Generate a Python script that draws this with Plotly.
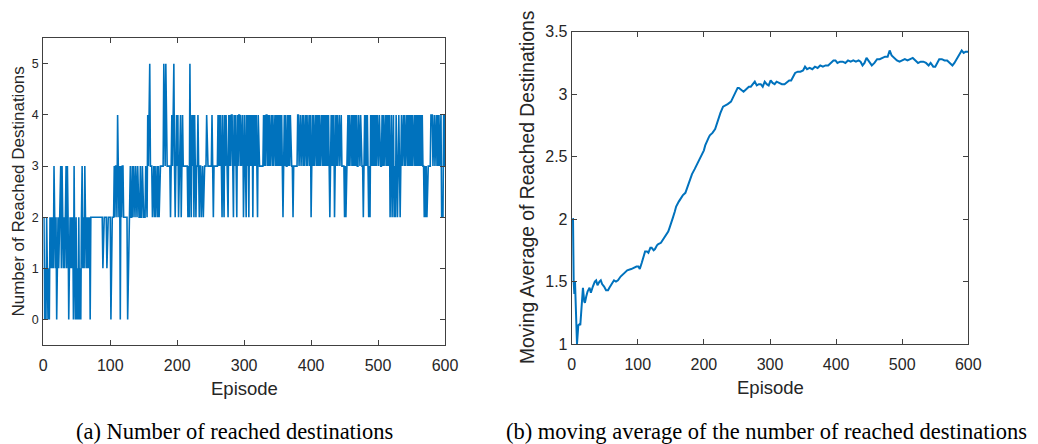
import plotly.graph_objects as go

# Reached destinations per episode (episodes 1..600), written 50 episodes per chunk
reached_chunks = [
    "20102001021212132120121223132121231320121212031020",  # 1-50
    "10201023121321212120222222222222222222122222122222",  # 51-100
    "02222323324323032332222220122322323223223222322322",  # 101-150
    "22322434533323323233232333333533533333323434532343",  # 151-200
    "42344234333333323253243424323343233233233334333333",  # 201-250
    "34323333334343432432434332434344324343243443434423",  # 251-300
    "43243424343424343432433333334343443434344343443434",  # 301-350
    "34343432343433434343332333333443443443434434344342",  # 351-400
    "34343443434343443434343434323434342343434434433332",  # 401-450
    "32334343443434343433433433323434343232434343434343",  # 451-500
    "34333434344343434234234232432343234344343443434343",  # 501-550
    "43443434343434343323232333334443443443434344222434",  # 551-600
]
reached = [int(c) for c in "".join(reached_chunks)]
episodes = list(range(1, len(reached) + 1))

# Moving average of reached destinations
ma_episode = [
    1, 2, 3, 4, 5, 6, 8, 10, 12, 13, 15, 17, 19, 20, 22, 24, 27, 29, 32, 35,
    37, 39, 42, 44, 46, 49, 52, 55, 57, 59, 62, 64, 67, 70, 74, 78, 84, 90, 94, 98,
    101, 103, 106, 109, 111, 114, 116, 119, 121, 124, 126, 129, 131, 135, 139, 143, 146, 148, 151, 153,
    156, 158, 162, 165, 168, 172, 175, 177, 180, 182, 186, 190, 193, 195, 198, 200, 202, 204, 207, 209,
    213, 217, 220, 222, 225, 229, 233, 236, 241, 244, 246, 249, 251, 253, 256, 260, 264, 268, 271, 274,
    277, 280, 283, 286, 289, 292, 295, 298, 301, 304, 307, 310, 314, 318, 322, 326, 329, 332, 335, 338,
    342, 346, 350, 353, 356, 360, 364, 368, 372, 376, 380, 384, 388, 392, 396, 399, 402, 406, 410, 414,
    418, 422, 426, 430, 434, 437, 440, 443, 446, 450, 454, 458, 462, 466, 470, 474, 478, 481, 484, 488,
    492, 496, 500, 504, 508, 512, 516, 520, 524, 528, 532, 536, 540, 543, 547, 550, 553, 556, 560, 564,
    568, 572, 576, 579, 583, 587, 590, 593, 596, 600,
]
ma_value = [
    2.00, 2.00, 1.50, 1.40, 1.50, 1.25, 1.00, 1.15, 1.16, 1.15, 1.30, 1.45, 1.34, 1.33, 1.38, 1.42, 1.45, 1.41, 1.46, 1.50,
    1.51, 1.47, 1.50, 1.51, 1.48, 1.46, 1.43, 1.43, 1.45, 1.47, 1.49, 1.51, 1.50, 1.51, 1.54, 1.56, 1.59, 1.60, 1.61, 1.62,
    1.62, 1.60, 1.65, 1.71, 1.74, 1.74, 1.73, 1.77, 1.77, 1.75, 1.76, 1.79, 1.80, 1.81, 1.84, 1.87, 1.90, 1.93, 1.97, 2.01,
    2.06, 2.10, 2.14, 2.17, 2.19, 2.21, 2.26, 2.28, 2.33, 2.36, 2.40, 2.44, 2.48, 2.50, 2.53, 2.55, 2.59, 2.62, 2.65, 2.67,
    2.69, 2.72, 2.77, 2.81, 2.85, 2.90, 2.91, 2.92, 2.94, 2.97, 2.99, 3.02, 3.05, 3.05, 3.04, 3.02, 3.04, 3.06, 3.06, 3.08,
    3.10, 3.07, 3.08, 3.08, 3.06, 3.10, 3.08, 3.07, 3.11, 3.09, 3.08, 3.10, 3.09, 3.08, 3.08, 3.10, 3.11, 3.11, 3.14, 3.17,
    3.18, 3.18, 3.19, 3.22, 3.20, 3.21, 3.20, 3.22, 3.21, 3.23, 3.22, 3.23, 3.23, 3.25, 3.27, 3.27, 3.25, 3.26, 3.26, 3.25,
    3.27, 3.26, 3.27, 3.26, 3.27, 3.26, 3.23, 3.25, 3.29, 3.26, 3.23, 3.25, 3.28, 3.28, 3.29, 3.30, 3.30, 3.35, 3.31, 3.29,
    3.27, 3.26, 3.27, 3.28, 3.27, 3.28, 3.29, 3.27, 3.25, 3.26, 3.26, 3.25, 3.23, 3.25, 3.22, 3.22, 3.25, 3.28, 3.28, 3.27,
    3.27, 3.25, 3.23, 3.25, 3.29, 3.32, 3.35, 3.33, 3.34, 3.34,
]

x_ticks = [0, 100, 200, 300, 400, 500, 600]
left_y_ticks = [0, 1, 2, 3, 4, 5]
right_y_ticks = [1, 1.5, 2, 2.5, 3, 3.5]
right_y_labels = ["1", "1.5", "2", "2.5", "3", "3.5"]

W, H = 1038, 444
LINE_BLUE = "#0072BD"
AXIS_GRAY = "#404040"
TEXT_GRAY = "#262626"
SANS = "Liberation Sans, Arial, sans-serif"
SERIF = "Liberation Serif, Times New Roman, serif"


def px_x(v):
    return v / W


def px_y(v):
    return 1 - v / H


fig = go.Figure()
fig.add_trace(go.Scatter(x=episodes, y=reached, mode="lines",
                         line=dict(color=LINE_BLUE, width=1.6),
                         xaxis="x", yaxis="y", showlegend=False))
fig.add_trace(go.Scatter(x=ma_episode, y=ma_value, mode="lines",
                         line=dict(color=LINE_BLUE, width=2),
                         xaxis="x2", yaxis="y2", showlegend=False))

axis_common = dict(showline=True, linecolor=AXIS_GRAY, linewidth=1, mirror="ticks",
                   ticks="inside", ticklen=5, tickwidth=1, tickcolor=AXIS_GRAY,
                   showgrid=False, zeroline=False, fixedrange=True, automargin=False)

fig.update_layout(
    width=W, height=H,
    margin=dict(l=0, r=0, t=0, b=0),
    paper_bgcolor="white", plot_bgcolor="white",
    xaxis=dict(domain=[px_x(43.3), px_x(445)], range=[0, 600], anchor="y",
               tickvals=x_ticks, ticklabelstandoff=6,
               tickfont=dict(family=SANS, size=16, color=TEXT_GRAY),
               **axis_common),
    yaxis=dict(domain=[px_y(345), px_y(38.3)], range=[-0.5, 5.5], anchor="x",
               tickvals=left_y_ticks, ticklabelstandoff=1,
               tickfont=dict(family=SANS, size=12.5, color=TEXT_GRAY),
               **axis_common),
    xaxis2=dict(domain=[px_x(571.7), px_x(968.3)], range=[0, 600], anchor="y2",
                tickvals=x_ticks, ticklabelstandoff=6,
                tickfont=dict(family=SANS, size=16, color=TEXT_GRAY),
                **axis_common),
    yaxis2=dict(domain=[px_y(344), px_y(31.7)], range=[1, 3.5], anchor="x2",
                tickvals=right_y_ticks, ticktext=right_y_labels,
                tickfont=dict(family=SANS, size=16, color=TEXT_GRAY),
                **axis_common),
)

annotations = [
    # axis titles
    dict(text="Number of Reached Destinations", x=px_x(19), y=px_y(191.6), textangle=-90,
         font=dict(family=SANS, size=17, color=TEXT_GRAY)),
    dict(text="Episode", x=px_x(244), y=px_y(388),
         font=dict(family=SANS, size=18.5, color=TEXT_GRAY)),
    dict(text="Moving Average of Reached Destinations", x=px_x(527), y=px_y(188),
         textangle=-90, font=dict(family=SANS, size=19.3, color=TEXT_GRAY)),
    dict(text="Episode", x=px_x(770), y=px_y(387),
         font=dict(family=SANS, size=18.5, color=TEXT_GRAY)),
    # sub-figure captions
    dict(text="(a) Number of reached destinations", x=px_x(234), y=px_y(431),
         font=dict(family=SERIF, size=22.5, color="black")),
    dict(text="(b) moving average of the number of reached destinations", x=px_x(766), y=px_y(431),
         font=dict(family=SERIF, size=22.5, color="black")),
]
for a in annotations:
    a.update(xref="paper", yref="paper", xanchor="center", yanchor="middle",
             showarrow=False)
fig.update_layout(annotations=annotations)

fig.write_html("out.html")
